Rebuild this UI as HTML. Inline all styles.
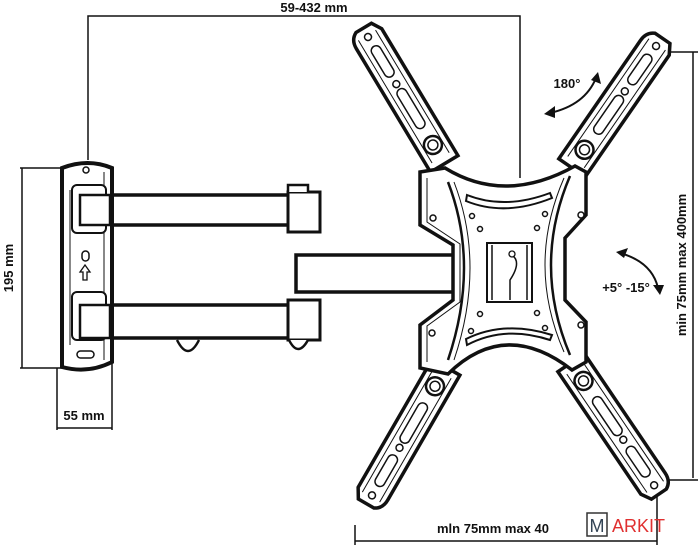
<!DOCTYPE html>
<html><head><meta charset="utf-8"><style>
html,body{margin:0;padding:0;background:#fff;}
svg{display:block;}
text{font-family:"Liberation Sans",sans-serif;font-weight:bold;fill:#111;}
</style></head><body>
<svg width="700" height="546" viewBox="0 0 700 546" xmlns="http://www.w3.org/2000/svg">
<defs>
<g id="arm">
  <path d="M118,-16 L262,-16 Q272,-16 276,-8 L276,10 L266,16 L118,16 Z" fill="#fff" stroke="#111" stroke-width="3.5"/>
  <path d="M125,-10 L268,-10 M125,10 L268,10" stroke="#111" stroke-width="1"/>
  <rect x="160" y="-5" width="45" height="10" rx="5" fill="#fff" stroke="#111" stroke-width="1.5"/>
  <rect x="220" y="-5" width="35" height="10" rx="5" fill="#fff" stroke="#111" stroke-width="1.5"/>
  <circle cx="211" cy="0" r="3.5" fill="#fff" stroke="#111" stroke-width="1.5"/>
  <circle cx="266" cy="0" r="3.5" fill="#fff" stroke="#111" stroke-width="1.5"/>
  <circle cx="140" cy="0" r="9" fill="#fff" stroke="#111" stroke-width="2.5"/>
  <circle cx="140" cy="0" r="5" fill="#fff" stroke="#111" stroke-width="1.5"/>
</g>
</defs>
<g stroke="#111" fill="none" stroke-width="1.5">
  <path d="M88,160 L88,16 L520,16 L520,178"/>
  <path d="M20,168 L62,168 M22,168 L22,368 M20,368 L62,368"/>
  <path d="M57,368 L57,430 M112,362 L112,430 M57,428 L112,428"/>
  <path d="M660,52 L698,52 M693,52 L693,478 M660,480 L698,480"/>
  <path d="M355,525 L355,545 M657,490 L657,545 M355,541 L657,541"/>
</g>
<text x="314" y="12" font-size="13" text-anchor="middle">59-432 mm</text>
<text x="0" y="0" font-size="13" text-anchor="middle" transform="translate(13,268) rotate(-90)">195 mm</text>
<text x="84" y="420" font-size="13" text-anchor="middle">55 mm</text>
<text x="0" y="0" font-size="13" text-anchor="middle" transform="translate(686,265) rotate(-90)">min 75mm max 400mm</text>
<text x="493" y="533" font-size="13" text-anchor="middle">mln 75mm max 40</text>
<text x="567" y="88" font-size="13" text-anchor="middle">180°</text>
<text x="626" y="292" font-size="13" text-anchor="middle">+5° -15°</text>
<g stroke="#111" stroke-width="2" fill="none">
  <path d="M550,113 Q585,105 596,78"/>
  <path d="M620,253 Q652,262 658,288"/>
</g>
<path d="M544,114 L555,106 L555,118 Z" fill="#111"/>
<path d="M598,72 L601,84 L591,80 Z" fill="#111"/>
<path d="M616,252 L628,248 L624,258 Z" fill="#111"/>
<path d="M660,295 L653,285 L664,285 Z" fill="#111"/>

<g stroke="#111" fill="#fff">
  <rect x="296" y="255" width="158" height="37" stroke-width="3.5"/>
  <rect x="80" y="195" width="222" height="30" stroke-width="3.5"/>
  <rect x="80" y="305" width="222" height="33" stroke-width="3.5"/>
  <path d="M80,226 L302,226 M80,305 L302,305" stroke-width="1"/>
  <rect x="288" y="192" width="32" height="40" stroke-width="3"/>
  <rect x="288" y="300" width="32" height="40" stroke-width="3"/>
  <path d="M288,192 L288,185 L308,185 L308,192 M289,340 Q298,358 308,340" stroke-width="2.5"/>
  <path d="M177,340 Q188,362 199,340" stroke-width="2.5"/>
  <path d="M62,168 Q88,158 112,168 L112,362 Q88,374 62,367 Z" stroke-width="4"/>
  <path d="M70,190 L70,345 M104,172 L104,360" stroke-width="1"/>
  <rect x="72" y="185" width="34" height="48" rx="5" stroke-width="2"/>
  <rect x="72" y="292" width="34" height="48" rx="5" stroke-width="2"/>
  <rect x="80" y="195" width="30" height="30" stroke-width="2.5"/>
  <rect x="80" y="305" width="30" height="33" stroke-width="2.5"/>
  <circle cx="86" cy="170" r="3" stroke-width="1.5"/>
  <rect x="82" y="251" width="7" height="10" rx="3.5" stroke-width="1.5"/>
  <path d="M85,265 L80,272 L83,272 L83,280 L87,280 L87,272 L90,272 Z" stroke-width="1.3"/>
  <rect x="77" y="351" width="17" height="7" rx="3.5" stroke-width="1.5"/>
</g>

<use href="#arm" transform="translate(505,265) rotate(-121)"/>
<use href="#arm" transform="translate(505,265) rotate(-55.4)"/>
<use href="#arm" transform="translate(505,265) rotate(120)"/>
<use href="#arm" transform="translate(505,265) rotate(55.9)"/>

<g stroke="#111" fill="#fff">
  <path d="M420,172 L445,168 Q505,205 575,166 L586,172 L586,215 L565,238 L565,300 L586,322 L586,362 L572,370 Q505,318 448,374 L420,368 L420,325 L453,300 L453,245 L420,225 Z" stroke-width="3.5"/>
  <path d="M427,178 L427,222 L460,244 L460,302 L427,326 L427,362" fill="none" stroke-width="1"/>
  <path d="M448,182 Q480,265 448,360" fill="none" stroke-width="2.5"/>
  <path d="M454,182 Q486,265 454,360" fill="none" stroke-width="1"/>
  <path d="M570,176 Q532,265 570,355" fill="none" stroke-width="2.5"/>
  <path d="M564,178 Q526,265 564,352" fill="none" stroke-width="1"/>
  <path d="M467,195 Q505,210 550,193 L552,198 Q505,217 466,201 Z" stroke-width="2"/>
  <path d="M467,345 Q505,325 550,340 L552,335 Q505,320 466,339 Z" stroke-width="2"/>
  <g stroke-width="1.5">
    <circle cx="472" cy="216" r="2.5"/><circle cx="545" cy="214" r="2.5"/>
    <circle cx="480" cy="229" r="2.5"/><circle cx="537" cy="228" r="2.5"/>
    <circle cx="480" cy="314" r="2.5"/><circle cx="537" cy="313" r="2.5"/>
    <circle cx="471" cy="331" r="2.5"/><circle cx="545" cy="328" r="2.5"/>
    <circle cx="433" cy="218" r="3"/><circle cx="581" cy="215" r="3"/>
    <circle cx="432" cy="333" r="3"/><circle cx="581" cy="325" r="3"/>
  </g>
  <rect x="487" y="243" width="45" height="59" stroke-width="2"/>
  <path d="M492,245 L492,300 M527,245 L527,300 M512,255 Q522,262 510,280 L510,300" fill="none" stroke-width="1.5"/>
  <circle cx="512" cy="254" r="3" stroke-width="1.3"/>
</g>

<rect x="587" y="513" width="20" height="23" fill="#fff" stroke="#333" stroke-width="1.5"/>
<text x="597" y="532" font-size="18" text-anchor="middle" style="font-weight:normal;fill:#345">M</text>
<text x="612" y="532" font-size="18" style="font-weight:normal;fill:#e03030">ARKIT</text>
</svg>
</body></html>
